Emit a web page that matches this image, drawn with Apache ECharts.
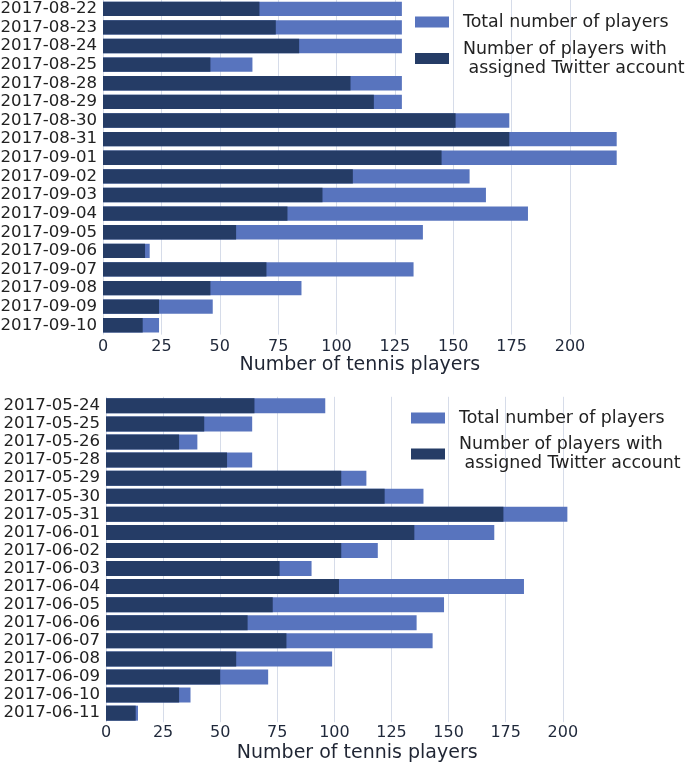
<!DOCTYPE html>
<html><head><meta charset="utf-8">
<script src="https://cdn.jsdelivr.net/npm/echarts@6/dist/echarts.min.js"></script>
<style>html,body{margin:0;padding:0;background:#fff}#c{width:685px;height:763px}</style>
</head><body><div id="c"></div><script>
const topDates = ['2017-08-22','2017-08-23','2017-08-24','2017-08-25','2017-08-28','2017-08-29','2017-08-30','2017-08-31','2017-09-01','2017-09-02','2017-09-03','2017-09-04','2017-09-05','2017-09-06','2017-09-07','2017-09-08','2017-09-09','2017-09-10'];
const topTotal   = [128,128,128,64,128,128,174,220,220,157,164,182,137,20,133,85,47,24];
const topTwitter = [67,74,84,46,106,116,151,174,145,107,94,79,57,18,70,46,24,17];
const botDates = ['2017-05-24','2017-05-25','2017-05-26','2017-05-28','2017-05-29','2017-05-30','2017-05-31','2017-06-01','2017-06-02','2017-06-03','2017-06-04','2017-06-05','2017-06-06','2017-06-07','2017-06-08','2017-06-09','2017-06-10','2017-06-11'];
const botTotal   = [96,64,40,64,114,139,202,170,119,90,183,148,136,143,99,71,37,14];
const botTwitter = [65,43,32,53,103,122,174,135,103,76,102,73,62,79,57,50,32,13];
const xMax = 220, xStep = 25;
const nameTotal = 'Total number of players';
const nameTw = 'Number of players with\n assigned Twitter account';
const cTotal = '#5874be', cTw = '#253c66';
const FONT = 'DejaVu Sans';

function xAx(idx, margin, gap) {
  return {
    type: 'value', gridIndex: idx, min: 0, max: xMax, interval: xStep,
    axisLine: {show: false}, axisTick: {show: false},
    splitLine: {show: true, showMaxLine: false, lineStyle: {color: '#d6dce9', width: 1}},
    axisLabel: {showMaxLabel: false, fontSize: 16, fontFamily: FONT, color: '#1f283a', margin: margin},
    name: 'Number of tennis players', nameLocation: 'middle', nameGap: gap,
    nameTextStyle: {fontSize: 19, fontFamily: FONT, color: '#1f2533'}
  };
}
function yAx(idx, cats) {
  return {
    type: 'category', gridIndex: idx, data: cats, inverse: true,
    axisLine: {show: false}, axisTick: {show: false}, splitLine: {show: false},
    axisLabel: {interval: 0, fontSize: 16.6, fontFamily: FONT, color: '#222', margin: 6}
  };
}
function legend(left, top, gap) {
  return {
    orient: 'vertical', left: left, top: top, itemWidth: 34, itemHeight: 11, itemGap: gap,
    icon: 'rect', padding: 0,
    data: [{name: nameTotal, itemStyle: {color: cTotal}}, {name: nameTw, itemStyle: {color: cTw}}],
    textStyle: {fontSize: 17.4, fontFamily: FONT, color: '#222', lineHeight: 19, padding: [0,0,0,9]},
    selectedMode: false
  };
}
const chart = echarts.init(document.getElementById('c'), null, {renderer: 'canvas'});
chart.setOption({
  animation: false,
  backgroundColor: '#fff',
  grid: [
    {left: 103, top: -0.5, width: xMax * 2.335, height: 335.1, containLabel: false, outerBoundsMode: 'none'},
    {left: 106, top: 396.8, width: xMax * 2.284, height: 325.4, containLabel: false, outerBoundsMode: 'none'}
  ],
  xAxis: [xAx(0, 4, 20), xAx(1, 3, 21)],
  yAxis: [yAx(0, topDates), yAx(1, botDates)],
  legend: [legend(415, 12.5, 8), legend(411, 408.5, 7.5)],
  series: [
    {type: 'bar', name: nameTotal, xAxisIndex: 0, yAxisIndex: 0, data: topTotal, itemStyle: {color: cTotal}, barCategoryGap: '23%', barGap: '-100%'},
    {type: 'bar', name: nameTw, xAxisIndex: 0, yAxisIndex: 0, data: topTwitter, itemStyle: {color: cTw}, barCategoryGap: '23%', barGap: '-100%'},
    {type: 'bar', name: nameTotal, xAxisIndex: 1, yAxisIndex: 1, data: botTotal, itemStyle: {color: cTotal}, barCategoryGap: '17%', barGap: '-100%'},
    {type: 'bar', name: nameTw, xAxisIndex: 1, yAxisIndex: 1, data: botTwitter, itemStyle: {color: cTw}, barCategoryGap: '17%', barGap: '-100%'}
  ]
});
</script></body></html>
